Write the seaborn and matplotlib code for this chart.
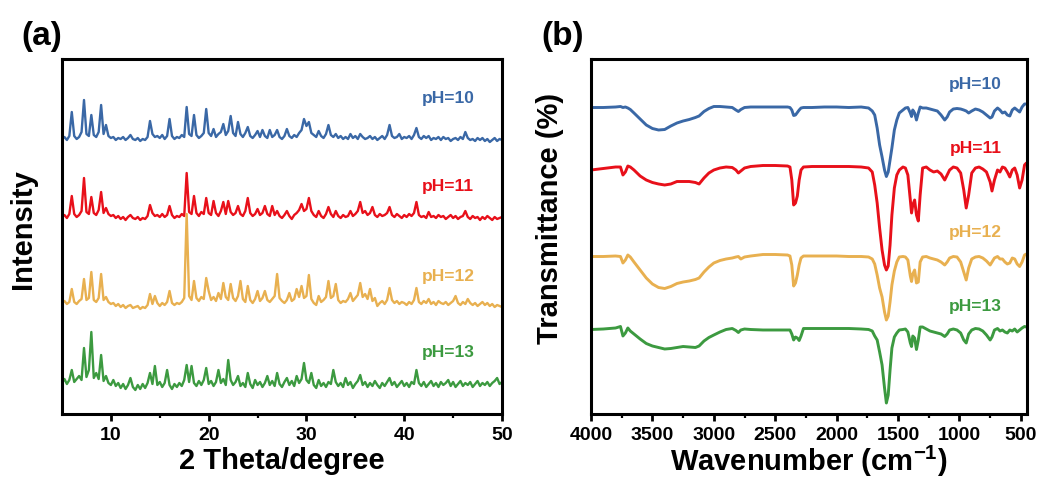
import numpy as np
import pandas as pd
import matplotlib
matplotlib.use("Agg")
import matplotlib.pyplot as plt
import seaborn as sns

# ---------------- data ----------------
samples = ["pH=10", "pH=11", "pH=12", "pH=13"]
colors = ["#3A68A6", "#E8101A", "#E8B050", "#3C9A40"]

# XRD: 2theta grid (0.25 deg sampling) and intensities (a.u.)
xrd_two_theta = np.linspace(5, 50, 181)

xrd_ph10 = [
    3, 5, 2, 6, 30, 6, 3, 5, 10, 42, 8, 6, 27, 7, 5, 10, 37, 8, 17, 6,
    4, 5, 2, 4, 3, 5, 2, 4, 7, 3, 2, 4, 1, 3, 2, 5, 21, 8, 5, 6,
    4, 7, 3, 6, 23, 6, 3, 5, 4, 7, 5, 35, 8, 6, 27, 7, 4, 6, 9, 33,
    9, 6, 13, 5, 8, 10, 18, 7, 11, 26, 9, 6, 20, 8, 5, 9, 15, 6, 4, 7,
    11, 5, 12, 6, 4, 12, 5, 7, 12, 5, 3, 6, 13, 6, 4, 7, 5, 9, 12, 23,
    16, 20, 9, 7, 5, 11, 6, 4, 8, 17, 7, 5, 8, 4, 6, 3, 5, 3, 8, 4,
    6, 3, 8, 5, 3, 4, 6, 3, 5, 2, 4, 6, 3, 7, 17, 6, 4, 5, 8, 3,
    5, 4, 6, 3, 7, 14, 5, 3, 6, 4, 6, 2, 4, 3, 5, 2, 5, 3, 4, 1,
    3, 4, 2, 5, 3, 10, 4, 2, 3, 1, 4, 2, 4, 1, 3, 0, 2, 4, 1, 3,
    2,
]
xrd_ph11 = [
    2, 4, 1, 5, 23, 5, 2, 4, 8, 41, 7, 5, 22, 6, 4, 9, 27, 6, 11, 5,
    3, 4, 1, 3, 0, 2, -1, 2, 4, 1, 0, 2, -1, 1, 0, 3, 14, 6, 3, 4,
    2, 5, 2, 4, 13, 4, 1, 3, 2, 5, 3, 46, 7, 5, 23, 6, 3, 7, 5, 21,
    6, 4, 18, 6, 3, 8, 17, 5, 18, 7, 4, 6, 13, 5, 3, 8, 21, 6, 3, 5,
    10, 4, 6, 13, 5, 3, 13, 4, 8, 3, 1, 4, 8, 3, 0, 4, 6, 9, 15, 8,
    10, 21, 8, 4, 2, 8, 3, 1, 5, 12, 5, 2, 8, 3, 1, 4, 2, 3, 8, 3,
    5, 8, 17, 6, 8, 4, 6, 12, 4, 2, 5, 3, 4, 6, 12, 4, 2, 5, 3, 1,
    4, 2, 5, 3, 6, 17, 4, 2, 3, 1, 7, 2, 3, 1, 4, 2, 3, 0, 2, 4,
    1, 3, 0, 2, 3, 8, 2, 0, 3, 1, 2, -1, 2, 0, 3, 1, -1, 2, 0, 1,
    2,
]
xrd_ph12 = [
    3, 5, 2, 4, 17, 4, 2, 5, 7, 27, 6, 8, 34, 6, 4, 8, 32, 6, 9, 4,
    2, 3, 0, 2, -1, 1, -2, 0, 1, -2, -1, 0, -3, -1, -2, 1, 12, 2, 10, 3,
    0, 3, 1, 4, 15, 3, 1, 3, 2, 4, 8, 92, 10, 6, 25, 8, 5, 9, 7, 28,
    15, 6, 9, 5, 13, 7, 23, 9, 6, 22, 8, 5, 10, 25, 7, 4, 20, 6, 3, 7,
    15, 5, 8, 15, 6, 4, 7, 10, 32, 8, 5, 3, 6, 13, 5, 7, 17, 9, 20, 8,
    10, 31, 7, 3, 1, 10, 4, 6, 9, 25, 8, 10, 22, 6, 3, 5, 4, 7, 13, 5,
    8, 11, 23, 9, 12, 7, 17, 5, 8, 0, 3, 5, 2, 6, 18, 6, 3, 5, 2, 4,
    3, 1, 4, 2, 6, 18, 4, 2, 5, 3, 7, 2, 4, 1, 5, 3, 2, 4, 1, 3,
    5, 10, 3, 1, 4, 2, 7, 3, 1, 3, 0, 2, 4, 1, 3, 0, 2, -1, 1, 0,
    -1,
]
xrd_ph13 = [
    5, 9, 4, 8, 18, 6, 9, 12, 8, 40, 11, 18, 56, 10, 15, 9, 33, 7, 12, 5,
    3, 8, 2, 5, 0, 4, -1, 3, 10, 1, -2, 3, -1, 4, 0, 5, 15, 4, 22, 3,
    6, 1, 5, 18, 3, -1, 4, 1, 5, 2, 8, 23, 6, 22, 5, 2, 7, 3, 8, 20,
    4, 7, 2, 6, 18, 5, 9, 3, 28, 8, 3, 6, 12, 2, 5, 1, 15, 4, 0, 8,
    3, 6, 1, 5, 12, 3, 7, 2, 15, 4, 1, 6, 10, 3, 7, 2, 12, 5, 9, 25,
    8, 5, 15, 3, 0, 8, 2, 5, 1, 6, 4, 18, 6, 2, 5, 1, 10, 3, 6, 0,
    4, 7, 13, 3, 6, 1, 5, 2, 7, 3, 0, 5, 2, 6, 10, 3, 6, 1, 4, 7,
    2, 5, 1, 6, 4, 18, 5, 2, 6, 1, 4, 7, 2, 5, 1, 6, 3, 5, 8, 2,
    6, 1, 4, 7, 2, 5, 3, 6, 1, 4, 7, 2, 5, 3, 6, 2, 5, 7, 10, 4,
    6,
]

# FTIR: wavenumbers (cm-1) and transmittance (a.u., stacked)
ftir_wn = [
    4000, 3900, 3800, 3760, 3740, 3720, 3700, 3680, 3650, 3600,
    3550, 3500, 3450, 3400, 3350, 3300, 3250, 3200, 3150, 3120,
    3080, 3040, 3000, 2950, 2900, 2850, 2820, 2800, 2780, 2750,
    2700, 2600, 2500, 2400, 2380, 2365, 2350, 2335, 2320, 2305,
    2290, 2270, 2200, 2100, 2000, 1900, 1800, 1740, 1710, 1690,
    1670, 1650, 1630, 1610, 1595, 1580, 1565, 1550, 1530, 1510,
    1490, 1460, 1440, 1420, 1400, 1390, 1380, 1365, 1350, 1335,
    1320, 1300, 1270, 1240, 1210, 1180, 1150, 1120, 1100, 1080,
    1050, 1020, 990, 965, 945, 925, 900, 870, 840, 810,
    780, 750, 735, 715, 690, 670, 650, 630, 610, 590,
    570, 550, 530, 510, 490, 470, 455,
]
ftir_ph10 = [
    306.5, 306.5, 307, 307.5, 306.5, 307, 306, 304.5, 301, 295,
    289, 285.5, 284, 284.5, 288, 291, 293, 294.5, 296.5, 298,
    302.5, 305.5, 307.5, 307.5, 307, 306.5, 304, 302.5, 304.5, 306.5,
    307, 307, 307, 307, 306.5, 304, 298.5, 299, 301.5, 304,
    306, 306.5, 306.5, 307, 307, 306.5, 307, 306, 303, 299,
    286, 269, 257, 244, 237.5, 242, 254, 266, 284, 294,
    301, 304, 306, 306.5, 301, 297.5, 304, 301, 294, 301,
    307, 306, 306, 305, 304, 303, 299, 294, 297, 302,
    305, 305.5, 305, 304, 303, 301, 303, 305, 304, 302,
    299, 296, 297, 303, 306, 304, 301, 302, 299, 298,
    304, 306, 304, 302, 307, 310, 310,
]
ftir_ph11 = [
    244, 245.5, 247, 247, 239, 242, 248, 247, 244, 238,
    234, 231.5, 230, 229, 230, 232.5, 232.5, 232.5, 231.5, 230,
    236, 241, 244, 246, 247, 246.5, 244, 241, 243, 246,
    247.5, 248.5, 248.5, 248, 247, 234, 209, 211, 218, 234,
    244, 247, 247.5, 247.5, 247.5, 247.5, 247, 246, 242, 229,
    211, 186, 164, 149, 144, 148, 169, 199, 226, 239,
    244, 247, 246, 239, 214, 201, 209, 214, 199, 193,
    219, 246, 247, 244, 242, 243, 240, 234, 239, 244,
    247, 246, 241, 224, 206, 219, 241, 246, 247, 245,
    242, 232, 223, 234, 244, 242, 247, 246, 242, 237,
    244, 246, 239, 226, 234, 249, 251,
]
ftir_ph12 = [
    157.5, 157.5, 158, 157.5, 151, 154, 159, 157, 152, 144,
    136, 130, 126.5, 125.5, 127.5, 130.5, 132, 133, 134.5, 136,
    142, 147, 151, 153.5, 155, 156, 157, 157.5, 155, 157,
    158, 159.5, 159.5, 159, 158, 149, 128, 131, 139, 149,
    156, 158, 158, 158, 158, 157.5, 157.5, 157, 155, 150,
    139, 126, 117, 102, 94, 98, 112, 129, 143, 152,
    157, 157.5, 157, 154, 138, 132.5, 140, 144, 131, 132,
    152, 157, 157.5, 156, 155, 154, 152, 149, 152, 156,
    157.5, 157, 152, 142, 134, 146, 155, 157, 157.5, 156,
    153, 149, 152, 156, 157.5, 155, 155, 152, 150, 151,
    156, 155, 150, 147.5, 152, 159, 160,
]
ftir_ph13 = [
    84.5, 85, 86, 87.5, 78, 81, 86, 83, 80, 75,
    70.5, 68, 66.5, 65, 65.5, 66.5, 67.5, 67, 66.5, 68,
    73, 76.5, 79, 82, 84.5, 85.5, 83.5, 81.5, 84, 85,
    84.5, 84, 84, 84, 84, 80, 74, 77, 76, 73.5,
    78, 85.5, 85.5, 85.5, 85.5, 85.5, 85, 84.5, 83, 78,
    74, 62, 49, 26, 11, 19, 44, 66, 77, 81,
    84, 84.5, 85, 82, 71, 67.5, 78, 76, 64.5, 74,
    87, 87, 85, 83, 82, 81, 80, 77.5, 80, 84,
    85, 84, 81, 74, 71, 80, 84, 85.5, 85, 83,
    79, 74, 77, 84, 85.5, 83, 84, 82, 81, 84,
    83, 85, 82, 84, 86, 87.5, 87,
]

# stacking offsets for the XRD patterns (display only)
xrd_offsets = [272, 195, 108, 26]

xrd_series = [xrd_ph10, xrd_ph11, xrd_ph12, xrd_ph13]
ftir_series = [ftir_ph10, ftir_ph11, ftir_ph12, ftir_ph13]
for s in xrd_series:
    assert len(s) == len(xrd_two_theta)
for s in ftir_series:
    assert len(s) == len(ftir_wn)

xrd_df = pd.concat([
    pd.DataFrame({"two_theta": xrd_two_theta,
                  "intensity": np.asarray(v, float) + off,
                  "sample": name})
    for name, v, off in zip(samples, xrd_series, xrd_offsets)
], ignore_index=True)

ftir_df = pd.concat([
    pd.DataFrame({"wn": ftir_wn, "T": v, "sample": name})
    for name, v in zip(samples, ftir_series)
], ignore_index=True)

# ---------------- style ----------------
sns.set_theme(style="ticks")
plt.rcParams["font.family"] = ["Liberation Sans", "DejaVu Sans"]
plt.rcParams["font.weight"] = "bold"
plt.rcParams["axes.labelweight"] = "bold"
plt.rcParams["text.color"] = "black"
plt.rcParams["axes.labelcolor"] = "black"
plt.rcParams["xtick.color"] = "black"
plt.rcParams["ytick.color"] = "black"
plt.rcParams["mathtext.fontset"] = "custom"
plt.rcParams["mathtext.rm"] = "Liberation Sans:bold"
plt.rcParams["mathtext.bf"] = "Liberation Sans:bold"
plt.rcParams["mathtext.default"] = "rm"

W, H = 1046, 493
fig = plt.figure(figsize=(W / 100, H / 100), dpi=100)
ax1 = fig.add_axes([62 / W, 1 - 414 / H, 440 / W, 355 / H])
ax2 = fig.add_axes([591 / W, 1 - 414 / H, 436 / W, 355 / H])
palette = dict(zip(samples, colors))

sns.lineplot(data=xrd_df, x="two_theta", y="intensity", hue="sample",
             palette=palette, estimator=None, sort=False, lw=1.7,
             legend=False, ax=ax1)
sns.lineplot(data=ftir_df, x="wn", y="T", hue="sample",
             palette=palette, estimator=None, sort=False, lw=2.1,
             legend=False, ax=ax2)

tick_fs = 14
label_fs = 21
for ax in (ax1, ax2):
    for sp in ax.spines.values():
        sp.set_linewidth(2.2)
        sp.set_color("black")
    ax.set_ylim(0, 355)
    ax.set_yticks([])
    ax.tick_params(axis="x", which="major", direction="out", length=5,
                   width=2.0, pad=4, labelsize=tick_fs, colors="black")
    ax.tick_params(axis="x", which="minor", direction="out", length=3,
                   width=1.6, colors="black")

ax1.set_xlim(5, 50)
ax1.set_xticks([10, 20, 30, 40, 50])
ax1.set_xticks([15, 25, 35, 45], minor=True)
ax1.set_xticklabels(["10", "20", "30", "40", "50"], fontweight="bold")

ax2.set_xlim(4000, 450)
ax2.set_xticks([4000, 3500, 3000, 2500, 2000, 1500, 1000, 500])
ax2.set_xticks([3750, 3250, 2750, 2250, 1750, 1250, 750], minor=True)
ax2.set_xticklabels(["4000", "3500", "3000", "2500", "2000", "1500",
                     "1000", "500"], fontweight="bold")

ax1.set_xlabel("2 Theta/degree", fontsize=label_fs, fontweight="bold")
ax1.set_ylabel("Intensity", fontsize=label_fs, fontweight="bold")
ax2.set_xlabel(r"Wavenumber (cm$^{-1}$)", fontsize=label_fs,
               fontweight="bold")
ax2.set_ylabel("Transmittance (%)", fontsize=label_fs, fontweight="bold")
for ax in (ax1, ax2):
    ax.xaxis.label.set_va("center")
    ax.yaxis.label.set_va("center")
ax1.xaxis.set_label_coords(0.5, -(461 - 414) / 355)
ax2.xaxis.set_label_coords(0.5, -(461 - 414) / 355)
ax1.yaxis.set_label_coords(-(62 - 23) / 440, (414 - 229) / 355)
ax2.yaxis.set_label_coords(-(591 - 550) / 436, (414 - 218) / 355)

# sample labels
xrd_label_y = [315, 228, 137, 62]
ftir_label_y = [329, 266, 182, 107]
for name, c, y in zip(samples, colors, xrd_label_y):
    ax1.text(44.5, y, name, color=c, fontsize=12.5, fontweight="bold",
             ha="center", va="center")
for name, c, y in zip(samples, colors, ftir_label_y):
    ax2.text(870, y, name, color=c, fontsize=12.5, fontweight="bold",
             ha="center", va="center")

fig.text(42 / W, 1 - 37 / H, "(a)", fontsize=24, fontweight="bold",
         ha="center", va="center")
fig.text(563 / W, 1 - 37 / H, "(b)", fontsize=24, fontweight="bold",
         ha="center", va="center")

fig.savefig("out.png", dpi=100, facecolor="white")
